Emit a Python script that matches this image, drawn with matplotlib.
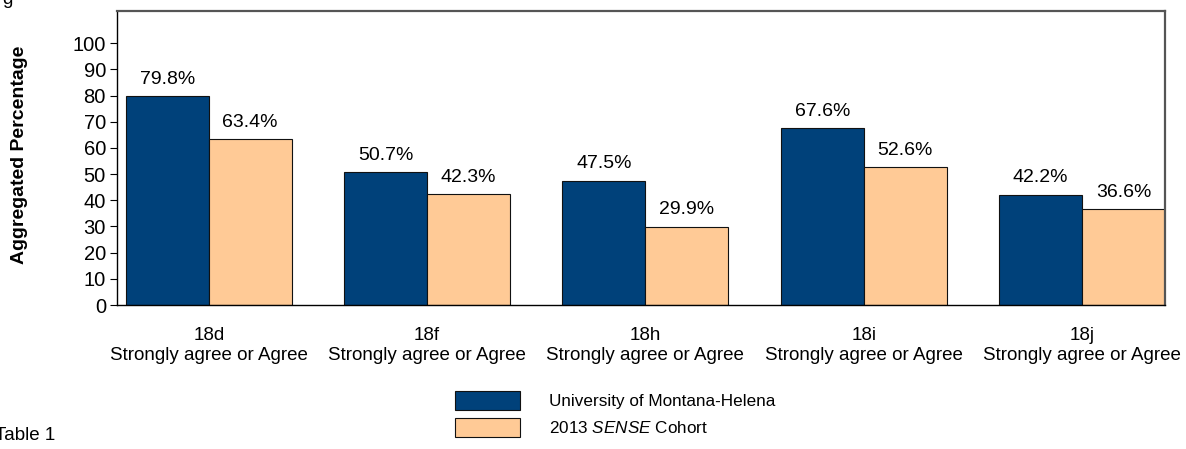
import matplotlib.pyplot as plt
import numpy as np

plt.rcParams['font.family'] = ['Liberation Sans', 'DejaVu Sans']
plt.rcParams['mathtext.fontset'] = 'custom'
plt.rcParams['mathtext.it'] = 'Liberation Sans:italic'
plt.rcParams['mathtext.rm'] = 'Liberation Sans'

categories = ['18d', '18f', '18h', '18i', '18j']
sublabel = 'Strongly agree or Agree'
college = [79.8, 50.7, 47.5, 67.6, 42.2]
cohort = [63.4, 42.3, 29.9, 52.6, 36.6]
series_names = ['University of Montana-Helena', r'2013 $\it{SENSE}$ Cohort']

dark = '#00417A'
light = '#FFCA96'

fig = plt.figure(figsize=(11.86, 4.49), dpi=100)
ax = fig.add_axes([0.0987, 0.3207, 0.8836, 0.6548])

x = np.arange(len(categories))
w = 0.38
b1 = ax.bar(x - w / 2, college, w, color=dark, edgecolor='#111111', linewidth=0.8,
            label=series_names[0])
b2 = ax.bar(x + w / 2, cohort, w, color=light, edgecolor='#111111', linewidth=0.8,
            label=series_names[1])

for bars, vals in ((b1, college), (b2, cohort)):
    for r, v in zip(bars, vals):
        ax.annotate(f'{v:.1f}%', (r.get_x() + r.get_width() / 2, v),
                    xytext=(0, 6), textcoords='offset points',
                    ha='center', va='bottom', fontsize=14)

ax.set_xlim(-0.42, len(categories) - 1 + w)
ax.set_ylim(0, 112.3)
ax.set_yticks(range(0, 101, 10))
ax.tick_params(axis='y', direction='out', length=5, labelsize=14.5, pad=3)
ax.set_xticks(x)
ax.set_xticklabels([f'{c}\n{sublabel}' for c in categories], fontsize=13.5,
                   linespacing=1.2)
ax.tick_params(axis='x', length=0, pad=16)

for s in ('top', 'right'):
    ax.spines[s].set_color('#555555')
    ax.spines[s].set_linewidth(1.6)
for s in ('left', 'bottom'):
    ax.spines[s].set_color('black')
    ax.spines[s].set_linewidth(1.0)

fig.text(0.0165, 0.655, 'Aggregated Percentage', rotation=90, ha='center',
         va='center', fontsize=14, fontweight='bold')

fig.legend(handles=[b1, b2], labels=series_names, loc='upper left',
           bbox_to_anchor=(0.3836, 0.129), frameon=False, fontsize=12.3,
           handlelength=3.8, handleheight=1.35, handletextpad=1.7,
           labelspacing=0.45, borderpad=0, borderaxespad=0)

fig.text(-0.004, 0.012, 'Table 1', fontsize=13.5, ha='left', va='bottom')
fig.text(0.002, 1.0, 'g', fontsize=13.5, ha='left', va='center')

fig.savefig('out.png', dpi=100)
